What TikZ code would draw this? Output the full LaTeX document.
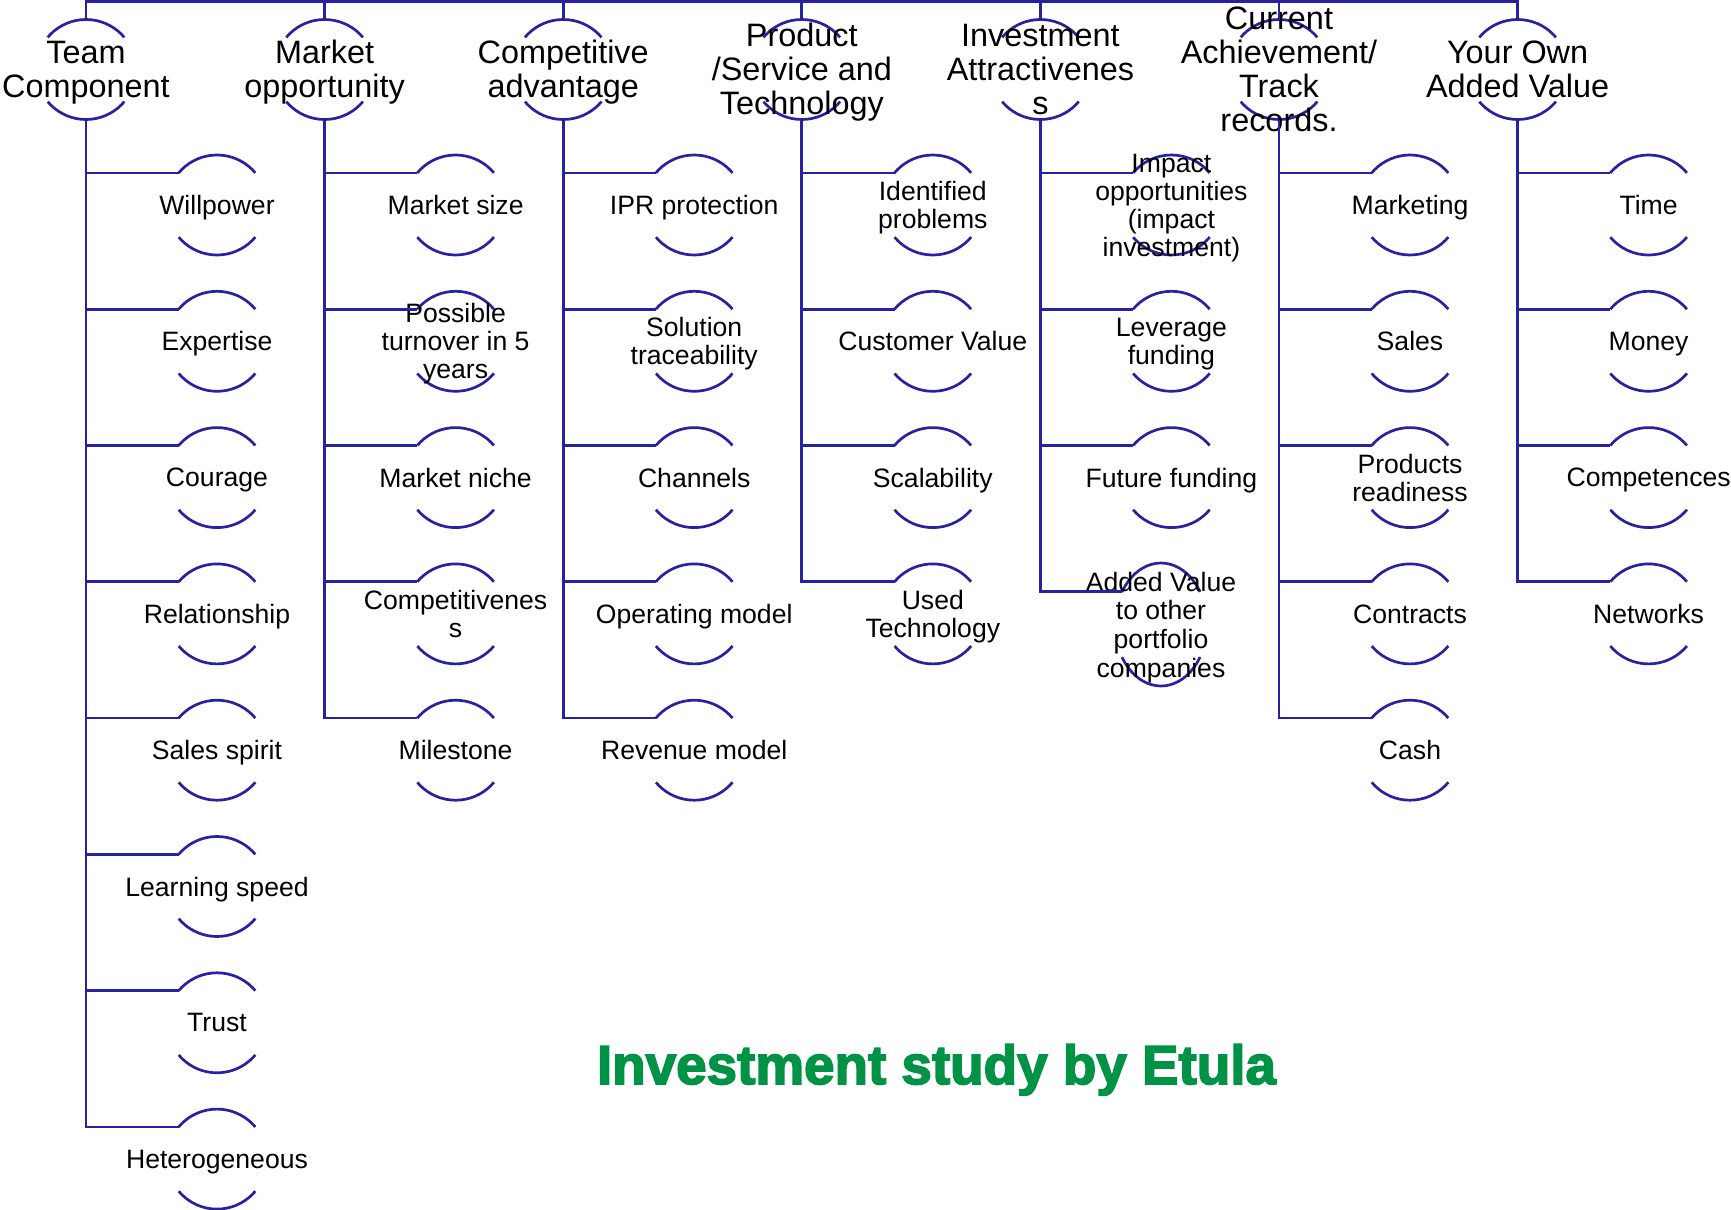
\documentclass[tikz,border=0pt]{standalone}
\usepackage{fontspec}
\setmainfont{Liberation Sans}
\usetikzlibrary{positioning,shapes.geometric}
\definecolor{navy}{HTML}{2622A0}
\definecolor{etula}{HTML}{009245}
\begin{document}
\begin{tikzpicture}[x=0.5pt, y=-0.5pt,
  bub/.style={circle, minimum size=50pt, inner sep=0pt, outer sep=0pt, draw=navy, line width=1.35pt, dash pattern=on 43.63pt off 34.91pt, dash phase=61.09pt},
  hd/.style={bub, label={[font=\fontsize{16.2}{17}\selectfont, align=center, text depth=0.5pt]center:#1}},
  st/.style={bub, label={[font=\fontsize{13.3}{14}\selectfont, align=center, text depth=0pt]center:#1}},
  ell/.style={ellipse, minimum width=46pt, minimum height=61.5pt, inner sep=0pt, outer sep=0pt, draw=navy, line width=1.35pt, dash pattern=on 51.27pt off 33.6pt, dash phase=68.07pt, label={[font=\fontsize{13.3}{14.3}\selectfont, align=center, text depth=0pt]center:#1}},
  lnk/.style={draw=navy, line width=1.35pt}]
\useasboundingbox (0,0) rectangle (1731,1210);
\node[hd={Team\\Component}] (team) at (86,69.5) {};
\node[hd={Market\\opportunity}, right=69.3pt of team] (mkt) {};
\node[hd={Competitive\\advantage}, right=69.3pt of mkt] (comp) {};
\node[hd={Product\\/Service and\\Technology}, right=69.3pt of comp] (prod) {};
\node[hd={Investment\\Attractivenes\\s}, right=69.3pt of prod] (inv) {};
\node[hd={Current\\Achievement/\\Track\\records.}, right=69.3pt of inv] (cur) {};
\node[hd={Your Own\\Added Value}, right=69.3pt of cur] (own) {};

\node[st={Willpower}] (team1) at (217,205) {};
\node[st={Expertise}, below=18.15pt of team1] (team2) {};
\node[st={Courage}, below=18.15pt of team2] (team3) {};
\node[st={Relationship}, below=18.15pt of team3] (team4) {};
\node[st={Sales spirit}, below=18.15pt of team4] (team5) {};
\node[st={Learning speed}, below=18.15pt of team5] (team6) {};
\node[st={Trust}, below=18.15pt of team6] (team7) {};
\node[st={Heterogeneous}, below=18.15pt of team7] (team8) {};

\node[st={Market size}] (mkt1) at (455.6,205) {};
\node[st={Possible\\turnover in 5\\years}, below=18.15pt of mkt1] (mkt2) {};
\node[st={Market niche}, below=18.15pt of mkt2] (mkt3) {};
\node[st={Competitivenes\\s}, below=18.15pt of mkt3] (mkt4) {};
\node[st={Milestone}, below=18.15pt of mkt4] (mkt5) {};

\node[st={IPR protection}] (comp1) at (694.2,205) {};
\node[st={Solution\\traceability}, below=18.15pt of comp1] (comp2) {};
\node[st={Channels}, below=18.15pt of comp2] (comp3) {};
\node[st={Operating model}, below=18.15pt of comp3] (comp4) {};
\node[st={Revenue model}, below=18.15pt of comp4] (comp5) {};

\node[st={Identified\\problems}] (prod1) at (932.8,205) {};
\node[st={Customer Value}, below=18.15pt of prod1] (prod2) {};
\node[st={Scalability}, below=18.15pt of prod2] (prod3) {};
\node[st={Used\\Technology}, below=18.15pt of prod3] (prod4) {};

\node[st={Impact\\opportunities\\(impact\\investment)}] (inv1) at (1171.4,205) {};
\node[st={Leverage\\funding}, below=18.15pt of inv1] (inv2) {};
\node[st={Future funding}, below=18.15pt of inv2] (inv3) {};
\node[ell={Added Value\\to other\\portfolio\\companies}] (inv4) at (1161,624.5) {};

\node[st={Marketing}] (cur1) at (1410,205) {};
\node[st={Sales}, below=18.15pt of cur1] (cur2) {};
\node[st={Products\\readiness}, below=18.15pt of cur2] (cur3) {};
\node[st={Contracts}, below=18.15pt of cur3] (cur4) {};
\node[st={Cash}, below=18.15pt of cur4] (cur5) {};

\node[st={Time}] (own1) at (1648.6,205) {};
\node[st={Money}, below=18.15pt of own1] (own2) {};
\node[st={Competences}, below=18.15pt of own2] (own3) {};
\node[st={Networks}, below=18.15pt of own3] (own4) {};

\coordinate (top) at (0,1.5);
\draw[lnk] (team.north) |- (top -| own.north) -- (own.north);
\foreach \h in {mkt,comp,prod,inv,cur}
  \draw[lnk] (\h.north) -- (\h.north |- top);
\foreach \h/\n in {team/8,mkt/5,comp/5,prod/4,inv/4,cur/5,own/4}
  \foreach \i in {1,...,\n}
    \draw[lnk] (\h.south) |- (\h\i.140);

\node[font=\fontsize{27.4}{30}\selectfont\bfseries\addfontfeature{FakeBold=3}, text=etula, anchor=base] (ttl) at (936.5,1084) {Investment study by Etula};
\end{tikzpicture}
\end{document}
